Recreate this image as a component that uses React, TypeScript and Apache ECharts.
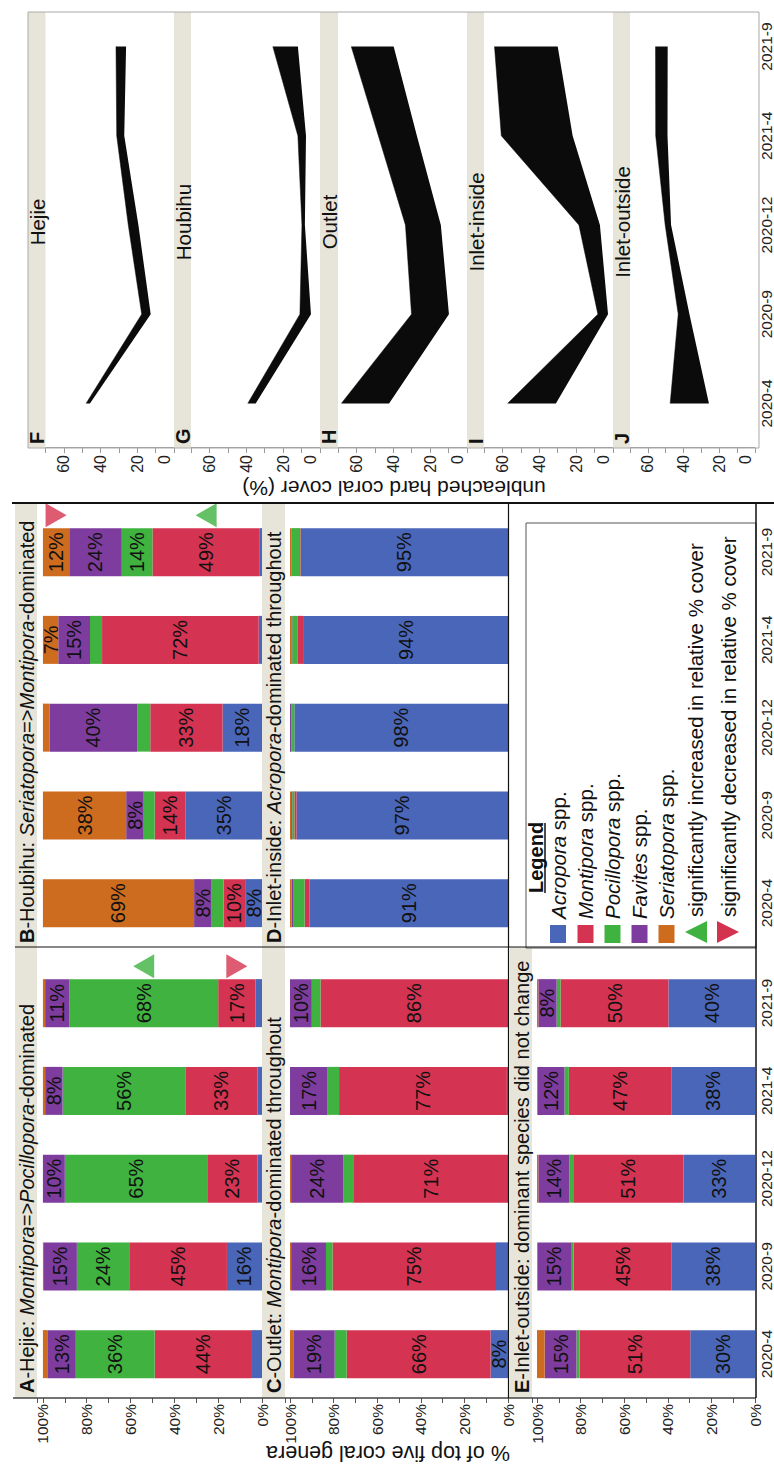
import React, { useEffect, useRef } from 'react';
import * as echarts from 'echarts';

// ---------- data ----------
const dates = ['2020-4', '2020-9', '2020-12', '2021-4', '2021-9'];
const genera = ['Acropora', 'Montipora', 'Pocillopora', 'Favites', 'Seriatopora'];
const generaColors = ['#4a66b9', '#d43352', '#40b23f', '#7e3d9e', '#cd6b1f'];

// A - Hejie (relative % of top five genera)
const hejieAcropora = [5, 16, 2, 2, 3];
const hejieMontipora = [44, 44.6, 23, 33, 17];
const hejiePocillopora = [36, 23.9, 65, 56, 68];
const hejieFavites = [13, 15, 10, 8, 11];
const hejieSeriatopora = [2, 0.5, 0, 1, 1];

// B - Houbihu
const houbihuAcropora = [7.7, 35, 18, 1.5, 1];
const houbihuMontipora = [9.8, 14, 33, 71.5, 49];
const houbihuPocillopora = [5.5, 5, 6, 5.5, 14];
const houbihuFavites = [8, 8, 40, 14.5, 24];
const houbihuSeriatopora = [69, 38, 3, 7, 12];

// C - Outlet
const outletAcropora = [8, 5.5, 0, 0.5, 0];
const outletMontipora = [66, 75, 71, 77, 86];
const outletPocillopora = [5.5, 3, 4.5, 5.5, 4];
const outletFavites = [19, 16, 24, 17, 10];
const outletSeriatopora = [1.5, 0.5, 0.5, 0, 0];

// D - Inlet-inside
const insideAcropora = [91, 97, 98, 94, 95];
const insideMontipora = [2.3, 1, 0, 2.4, 0.3];
const insidePocillopora = [5.3, 1, 1.4, 2.6, 4];
const insideFavites = [0.6, 0.5, 0.6, 0.4, 0.2];
const insideSeriatopora = [0.8, 0.5, 0, 0.6, 0.5];

// E - Inlet-outside
const outsideAcropora = [29.7, 38.2, 32.8, 38.2, 39.7];
const outsideMontipora = [50.8, 45, 50.6, 47.2, 49.5];
const outsidePocillopora = [1.4, 1.2, 1.8, 2, 1.8];
const outsideFavites = [14.6, 15.2, 14.2, 12.2, 8.4];
const outsideSeriatopora = [3.5, 0.4, 0.6, 0.4, 0.6];

// significant changes (last survey)
const changeMarkers = [
  { panel: 'A', genus: 'Pocillopora', direction: 'up' },
  { panel: 'A', genus: 'Montipora', direction: 'down' },
  { panel: 'B', genus: 'Seriatopora', direction: 'down' },
  { panel: 'B', genus: 'Montipora', direction: 'up' },
];

// F-J unbleached hard coral cover (%), lower / upper bounds of band
const hejieCoverLow = [45.8, 12.7, 19.4, 27.1, 26.1];
const hejieCoverHigh = [47.9, 17.6, 24.9, 31.2, 31.6];
const houbihuCoverLow = [34.9, 4.9, 8.2, 7.6, 12];
const houbihuCoverHigh = [39.2, 10.9, 9.8, 12, 25.6];
const outletCoverLow = [42.3, 9.8, 14.2, 27.2, 39.8];
const outletCoverHigh = [68.2, 30.1, 33.4, 48.1, 62.8];
const insideCoverLow = [31, 2.7, 7.1, 21.9, 30];
const insideCoverHigh = [57.2, 8.2, 18.5, 60.6, 64.3];
const outsideCoverLow = [25.8, 36.7, 47, 49, 48.9];
const outsideCoverHigh = [47.5, 43, 50.3, 55.6, 55.7];

const coverTicks = [0, 20, 40, 60];
const pctTicks = [0, 20, 40, 60, 80, 100];

// ---------- layout ----------
const FF = "'Liberation Sans', Arial, Helvetica, sans-serif";
const BAND = 87.75;
const STRIP = '#e7e5d9';
const STRIP_FS = 20;

const barPanels = [
  { key: 'A', left: 70, top: 37, height: 225, max: 102.7, yLabels: true, xLabels: false,
    values: [hejieAcropora, hejieMontipora, hejiePocillopora, hejieFavites, hejieSeriatopora] },
  { key: 'B', left: 521, top: 37, height: 225, max: 102.7, yLabels: false, xLabels: false,
    values: [houbihuAcropora, houbihuMontipora, houbihuPocillopora, houbihuFavites, houbihuSeriatopora] },
  { key: 'C', left: 70, top: 285, height: 223, max: 102.3, yLabels: true, xLabels: false,
    values: [outletAcropora, outletMontipora, outletPocillopora, outletFavites, outletSeriatopora] },
  { key: 'D', left: 521, top: 285, height: 223, max: 102.3, yLabels: false, xLabels: false,
    values: [insideAcropora, insideMontipora, insidePocillopora, insideFavites, insideSeriatopora] },
  { key: 'E', left: 70, top: 532, height: 224, max: 102.3, yLabels: true, xLabels: true,
    values: [outsideAcropora, outsideMontipora, outsidePocillopora, outsideFavites, outsideSeriatopora] },
];

const fjPanels = [
  { letter: 'F', site: 'Hejie', top: 45.5, height: 128.5, stripY: 28, stripH: 17.5, low: hejieCoverLow, high: hejieCoverHigh },
  { letter: 'G', site: 'Houbihu', top: 191, height: 129, stripY: 174, stripH: 17, low: houbihuCoverLow, high: houbihuCoverHigh },
  { letter: 'H', site: 'Outlet', top: 338, height: 129, stripY: 320, stripH: 18, low: outletCoverLow, high: outletCoverHigh },
  { letter: 'I', site: 'Inlet-inside', top: 484, height: 129, stripY: 467, stripH: 17, low: insideCoverLow, high: insideCoverHigh },
  { letter: 'J', site: 'Inlet-outside', top: 630, height: 129, stripY: 613, stripH: 17, low: outsideCoverLow, high: outsideCoverHigh },
];

function buildOption() {
  const grid: any[] = [];
  const xAxis: any[] = [];
  const yAxis: any[] = [];
  const series: any[] = [];
  const graphic: any[] = [];
  const W5 = BAND * 5;

  barPanels.forEach((p, i) => {
    grid.push({ left: p.left, top: p.top, width: W5, height: p.height });
    xAxis.push({
      type: 'category', gridIndex: i, data: dates, boundaryGap: true,
      axisLine: { show: false }, axisTick: { show: false },
      axisLabel: { show: p.xLabels, interval: 0, margin: 3, fontSize: 15.5, color: '#222', fontFamily: FF },
    });
    yAxis.push({
      type: 'value', gridIndex: i, min: 0, max: p.max, interval: 10,
      axisLine: { show: false }, splitLine: { show: false },
      axisTick: { show: p.yLabels, length: 5, lineStyle: { color: '#555' } },
      axisLabel: {
        show: p.yLabels, margin: 6, fontSize: 15.5, color: '#222', fontFamily: FF,
        formatter: (v: number) => (pctTicks.indexOf(v) >= 0 ? v + '%' : ''),
      },
    });
    genera.forEach((g, k) => {
      series.push({
        type: 'bar', name: g, stack: 'stack' + p.key, xAxisIndex: i, yAxisIndex: i,
        data: p.values[k], barWidth: 48,
        itemStyle: { color: generaColors[k] },
        label: {
          show: true, position: 'inside', fontSize: 20, color: '#111', fontFamily: FF,
          formatter: (q: any) => (q.value >= 6.5 ? Math.round(q.value) + '%' : ''),
        },
      });
    });
  });

  // significance markers
  changeMarkers.forEach((m) => {
    const pi = barPanels.findIndex((p) => p.key === m.panel);
    const p = barPanels[pi];
    const gi = genera.indexOf(m.genus);
    const last = dates.length - 1;
    let below = 0;
    for (let k = 0; k < gi; k++) below += p.values[k][last];
    const center = below + p.values[gi][last] / 2;
    series.push({
      type: 'scatter', xAxisIndex: pi, yAxisIndex: pi, z: 5,
      data: [[dates[last], center]],
      symbol: 'triangle', symbolSize: [24, 21], symbolOffset: [37, 0],
      symbolRotate: m.direction === 'down' ? 180 : 0,
      itemStyle: { color: m.direction === 'down' ? '#d4334f' : '#3fb23f' },
      silent: true,
    });
  });

  // legend column date axis
  const lgIdx = grid.length;
  grid.push({ left: 521, top: 532, width: W5, height: 224 });
  xAxis.push({
    type: 'category', gridIndex: lgIdx, data: dates, boundaryGap: true,
    axisLine: { show: false }, axisTick: { show: false },
    axisLabel: { show: true, interval: 0, margin: 3, fontSize: 15.5, color: '#222', fontFamily: FF },
  });
  yAxis.push({ type: 'value', gridIndex: lgIdx, min: 0, max: 100, show: false });

  // F-J
  fjPanels.forEach((p, j) => {
    const gi = grid.length;
    const isLast = j === fjPanels.length - 1;
    grid.push({ left: 1020, top: p.top, width: 446, height: p.height });
    xAxis.push({
      type: 'category', gridIndex: gi, data: dates, boundaryGap: true,
      axisLine: { show: false }, axisTick: { show: false },
      axisLabel: { show: isLast, interval: 0, margin: 3, fontSize: 15.5, color: '#222', fontFamily: FF },
    });
    yAxis.push({
      type: 'value', gridIndex: gi, min: 0, max: 70, interval: 10,
      axisLine: { show: true, lineStyle: { color: '#9a9a9a', width: 1 } },
      splitLine: { show: false },
      axisTick: { show: true, length: 5, lineStyle: { color: '#9a9a9a' } },
      axisLabel: {
        margin: 7, fontSize: 16, color: '#222', fontFamily: FF,
        formatter: (v: number) => (coverTicks.indexOf(v) >= 0 ? (v === 0 ? '{z|0}' : String(v)) : ''),
        rich: { z: { fontSize: 16, color: '#222', fontFamily: FF, padding: [0, 0, 20, 0] } },
      },
    });
    series.push({
      type: 'line', xAxisIndex: gi, yAxisIndex: gi, stack: 'cover' + p.letter,
      data: p.low, symbol: 'none', lineStyle: { opacity: 0 }, silent: true,
    });
    series.push({
      type: 'line', xAxisIndex: gi, yAxisIndex: gi, stack: 'cover' + p.letter,
      data: p.high.map((h, k) => +(h - p.low[k]).toFixed(2)),
      symbol: 'none', lineStyle: { width: 0.5, color: '#0b0b0b' },
      areaStyle: { color: '#0b0b0b', opacity: 1 }, silent: true,
    });
    graphic.push({ type: 'rect', z: 20, shape: { x: 1020, y: p.stripY, width: 436, height: p.stripH }, style: { fill: STRIP } });
    graphic.push({
      type: 'text', z: 30, x: 1024, y: p.stripY + p.stripH / 2,
      style: { text: p.letter, fontSize: 20, fontWeight: 'bold', fontFamily: FF, fill: '#111', align: 'left', verticalAlign: 'middle', textAlign: 'left', textVerticalAlign: 'middle' },
    });
    graphic.push({
      type: 'text', z: 30, x: 1246, y: p.stripY + p.stripH / 2 + 0.5,
      style: { text: p.site, fontSize: 20.5, fontFamily: FF, fill: '#111', align: 'center', verticalAlign: 'middle', textAlign: 'center', textVerticalAlign: 'middle' },
    });
  });
  graphic.push({ type: 'rect', z: 25, shape: { x: 1020, y: 28, width: 436, height: 731 }, style: { fill: 'none', stroke: '#aaaaaa', lineWidth: 1 } });

  // strips of A-E
  graphic.push({ type: 'rect', z: 20, shape: { x: 70, y: 15, width: 895, height: 22 }, style: { fill: STRIP } });
  graphic.push({ type: 'rect', z: 20, shape: { x: 70, y: 262, width: 895, height: 23 }, style: { fill: STRIP } });
  graphic.push({ type: 'rect', z: 20, shape: { x: 70, y: 510, width: 451, height: 22 }, style: { fill: STRIP } });

  const richStrip = {
    b: { fontWeight: 'bold', fontSize: STRIP_FS, fontFamily: FF, fill: '#111', color: '#111' },
    i: { fontStyle: 'italic', fontSize: STRIP_FS, fontFamily: FF, fill: '#111', color: '#111' },
  };
  const stripTexts = [
    { x: 75, y: 26.5, t: '{b|A}-Hejie: {i|Montipora}=>{i|Pocillopora}-dominated' },
    { x: 525, y: 26.5, t: '{b|B}-Houbihu: {i|Seriatopora}=>{i|Montipora}-dominated' },
    { x: 75, y: 274, t: '{b|C}-Outlet: {i|Montipora}-dominated throughout' },
    { x: 525, y: 274, t: '{b|D}-Inlet-inside: {i|Acropora}-dominated throughout' },
    { x: 75, y: 521.5, t: '{b|E}-Inlet-outside: dominant species did not change' },
  ];
  stripTexts.forEach((s) =>
    graphic.push({
      type: 'text', z: 30, x: s.x, y: s.y,
      style: { text: s.t, rich: richStrip, fontSize: STRIP_FS, fontFamily: FF, fill: '#111', align: 'left', verticalAlign: 'middle', textAlign: 'left', textVerticalAlign: 'middle' },
    })
  );

  // frame lines
  const lines = [
    { x1: 70, y1: 13, x2: 70, y2: 756, c: '#444', w: 1.5 },
    { x1: 521, y1: 15, x2: 521, y2: 756, c: '#111', w: 1.2 },
    { x1: 965, y1: 12, x2: 965, y2: 774, c: '#111', w: 2 },
    { x1: 70, y1: 508.5, x2: 965, y2: 508.5, c: '#111', w: 1.2 },
    { x1: 70, y1: 756, x2: 965, y2: 756, c: '#111', w: 1.5 },
  ];
  lines.forEach((l) =>
    graphic.push({ type: 'line', z: 40, shape: { x1: l.x1, y1: l.y1, x2: l.x2, y2: l.y2 }, style: { stroke: l.c, lineWidth: l.w } })
  );

  // legend
  graphic.push({ type: 'rect', z: 35, shape: { x: 520, y: 526, width: 425, height: 230 }, style: { fill: '#fff', stroke: '#555', lineWidth: 1 } });
  graphic.push({
    type: 'text', z: 41, x: 575, y: 535.5,
    style: { text: 'Legend', fontSize: 20, fontWeight: 'bold', fontFamily: FF, fill: '#111', align: 'left', verticalAlign: 'middle', textAlign: 'left', textVerticalAlign: 'middle' },
  });
  graphic.push({ type: 'line', z: 41, shape: { x1: 575, y1: 545, x2: 645, y2: 545 }, style: { stroke: '#111', lineWidth: 1.5 } });
  const legendRows = [558, 585.5, 612.5, 639.5, 666.5];
  const richLegend = { i: { fontStyle: 'italic', fontSize: 20.5, fontFamily: FF, fill: '#111', color: '#111' } };
  genera.forEach((g, k) => {
    graphic.push({ type: 'rect', z: 41, shape: { x: 525, y: legendRows[k] - 8, width: 18, height: 16 }, style: { fill: generaColors[k] } });
    graphic.push({
      type: 'text', z: 41, x: 549, y: legendRows[k],
      style: { text: '{i|' + g + '} spp.', rich: richLegend, fontSize: 20.5, fontFamily: FF, fill: '#111', align: 'left', verticalAlign: 'middle', textAlign: 'left', textVerticalAlign: 'middle' },
    });
  });
  graphic.push({ type: 'polygon', z: 41, shape: { points: [[525, 707], [547, 707], [536, 685]] }, style: { fill: '#3fb23f' } });
  graphic.push({ type: 'polygon', z: 41, shape: { points: [[525, 717], [547, 717], [536, 739]] }, style: { fill: '#d4334f' } });
  graphic.push({
    type: 'text', z: 41, x: 551, y: 695,
    style: { text: 'significantly increased in relative % cover', fontSize: 20.5, fontFamily: FF, fill: '#111', align: 'left', verticalAlign: 'middle', textAlign: 'left', textVerticalAlign: 'middle' },
  });
  graphic.push({
    type: 'text', z: 41, x: 551, y: 728,
    style: { text: 'significantly decreased in relative % cover', fontSize: 20.5, fontFamily: FF, fill: '#111', align: 'left', verticalAlign: 'middle', textAlign: 'left', textVerticalAlign: 'middle' },
  });

  // axis titles
  graphic.push({
    type: 'text', z: 41, x: 15, y: 388, rotation: Math.PI / 2,
    style: { text: '% of top five coral genera', fontSize: 21.5, fontFamily: FF, fill: '#111', align: 'center', verticalAlign: 'middle', textAlign: 'center', textVerticalAlign: 'middle' },
  });
  graphic.push({
    type: 'text', z: 41, x: 980, y: 394, rotation: Math.PI / 2,
    style: { text: 'unbleached hard coral cover (%)', fontSize: 21, fontFamily: FF, fill: '#111', align: 'center', verticalAlign: 'middle', textAlign: 'center', textVerticalAlign: 'middle' },
  });

  return {
    animation: false,
    backgroundColor: '#fff',
    textStyle: { fontFamily: FF },
    grid, xAxis, yAxis, series, graphic,
  };
}

export default function App() {
  const ref = useRef<HTMLDivElement>(null);
  useEffect(() => {
    if (!ref.current) return;
    const chart = echarts.init(ref.current, null, { renderer: 'svg', width: 1468, height: 774 });
    chart.setOption(buildOption() as any);
    return () => chart.dispose();
  }, []);
  return (
    <div style={{ position: 'fixed', left: 0, top: 0, width: 774, height: 1468, overflow: 'hidden', background: '#fff' }}>
      <div
        style={{
          position: 'absolute', left: 0, top: 0, width: 1468, height: 774,
          transformOrigin: '0 0', transform: 'translate(0px, 1468px) rotate(-90deg)',
        }}
      >
        <div ref={ref} style={{ width: 1468, height: 774 }} />
      </div>
    </div>
  );
}
